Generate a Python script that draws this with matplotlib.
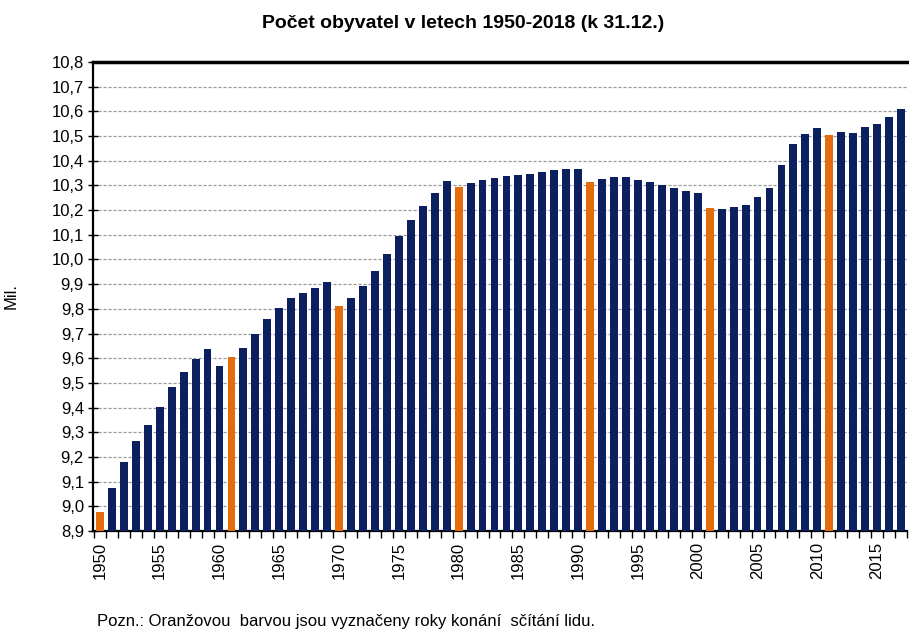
import matplotlib
matplotlib.use("Agg")
import matplotlib.pyplot as plt
from matplotlib import font_manager
import numpy as np

years = list(range(1950, 2018))
population = [
    8.978, 9.075, 9.181, 9.263, 9.330, 9.404, 9.484, 9.545, 9.598, 9.636,
    9.567, 9.606, 9.641, 9.699, 9.760, 9.804, 9.843, 9.865, 9.885, 9.908,
    9.813, 9.844, 9.892, 9.953, 10.022, 10.094, 10.159, 10.217, 10.270, 10.318,
    10.295, 10.308, 10.322, 10.330, 10.337, 10.344, 10.348, 10.353, 10.361, 10.365,
    10.365, 10.314, 10.326, 10.336, 10.336, 10.322, 10.313, 10.301, 10.291, 10.278,
    10.268, 10.208, 10.203, 10.212, 10.221, 10.252, 10.291, 10.381, 10.468, 10.508,
    10.534, 10.503, 10.516, 10.512, 10.538, 10.550, 10.578, 10.608,
]
census_years = [1950, 1961, 1970, 1980, 1991, 2001, 2011]
y_ticks = [round(8.9 + 0.1 * i, 1) for i in range(20)]
x_label_years = list(range(1950, 2018, 5))

title = "Počet obyvatel v letech 1950-2018 (k 31.12.)"
ylabel = "Mil."
note = "Pozn.: Oranžovou  barvou jsou vyznačeny roky konání  sčítání lidu."

navy = "#0c1f5e"
orange = "#e46c0a"

fam = ["Liberation Sans", "DejaVu Sans"]
plt.rcParams["font.family"] = fam

fig = plt.figure(figsize=(9.09, 6.31), dpi=100)
ax = fig.add_axes([0.1023, 0.1585, 0.8955, 0.7432])

x = np.arange(len(years))
colors = [orange if y in census_years else navy for y in years]
ax.bar(x, population, width=0.66, color=colors, edgecolor="none", zorder=3)

ax.set_ylim(8.9, 10.8)
ax.set_xlim(-0.58, 67.4)
ax.set_yticks(y_ticks)
ax.set_yticklabels([f"{v:.1f}".replace(".", ",") for v in y_ticks], fontsize=12)
ax.tick_params(axis="y", direction="inout", length=7, width=1, pad=3)

ax.set_xticks(x[[years.index(y) for y in x_label_years]])
ax.set_xticklabels([str(y) for y in x_label_years], rotation=90, fontsize=12)
ax.tick_params(axis="x", length=0, pad=8)
ax.set_xticks(np.arange(-0.5, len(years), 1.0), minor=True)
ax.tick_params(axis="x", which="minor", length=5, width=1, direction="out")

for v in y_ticks[1:-1]:
    ax.axhline(v, color="#9a9a9a", linestyle=(0, (2.5, 1.5)), linewidth=0.9, zorder=1)
ax.axhline(10.8, color="black", linewidth=2.5, zorder=4, clip_on=False)

ax.spines["right"].set_visible(False)
ax.spines["top"].set_visible(False)
ax.spines["left"].set_linewidth(1.6)
ax.spines["bottom"].set_linewidth(1.6)

ax.set_ylabel(ylabel, fontsize=12, labelpad=24)

fig.text(0.51, 0.963, title, ha="center", va="center", fontsize=14, fontweight="bold")
fig.text(0.107, 0.003, note, ha="left", va="bottom", fontsize=12)

fig.savefig("out.png", dpi=100)
